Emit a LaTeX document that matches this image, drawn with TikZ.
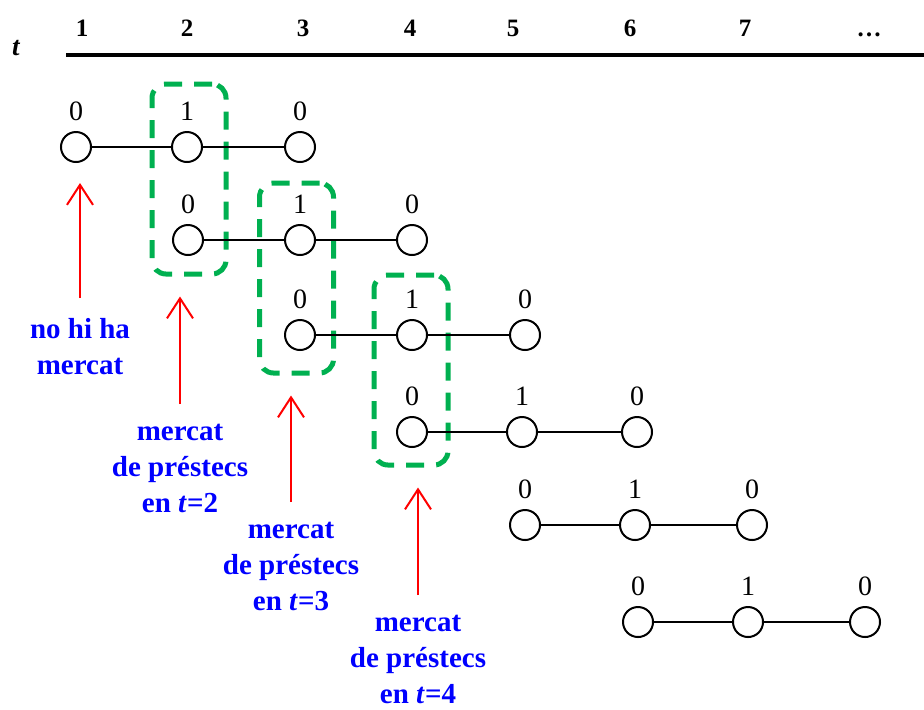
\documentclass[tikz,border=0pt]{standalone}
\usepackage{fontspec}
\setmainfont{Liberation Serif}
\usepackage{tikz}
\usetikzlibrary{arrows.meta, calc}
\definecolor{boxgreen}{RGB}{0,176,80}

\begin{document}
\begin{tikzpicture}[x=0.5pt, y=-0.5pt]
    \tikzstyle{period} = [circle, draw=black, line width=1pt, minimum size=15pt, inner sep=0pt]
    \tikzstyle{digit} = [font=\fontsize{14}{16}\selectfont, inner sep=0pt]
    \tikzstyle{head} = [font=\fontsize{12.5}{14}\selectfont\bfseries, anchor=base, inner sep=0pt]
    \tikzstyle{link} = [line width=0.9pt]
    \tikzstyle{mktbox} = [rectangle, rounded corners=7pt, draw=boxgreen, line width=2.5pt, dash pattern=on 9pt off 6pt, minimum width=37pt, minimum height=95pt, inner sep=0pt]
    \tikzstyle{note} = [text=blue, font=\fontsize{14.5}{18}\selectfont\bfseries, align=center, inner sep=0pt, anchor=north]
    \tikzstyle{arrow} = [red, line width=1pt, -{Straight Barb[length=10pt, width=13pt]}, shorten <=10pt, shorten >=10pt]
    \useasboundingbox (0,0) rectangle (924,709);
    % Header
    \node (tlabel) [head, font=\fontsize{13.5}{15}\selectfont\bfseries\itshape] at (16,55) {t};
    \node (h1) [head] at (82,36) {1};
    \node (h2) [head] at (187,36) {2};
    \node (h3) [head] at (303,36) {3};
    \node (h4) [head] at (410,36) {4};
    \node (h5) [head] at (513,36) {5};
    \node (h6) [head] at (630,36) {6};
    \node (h7) [head] at (745,36) {7};
    \node (h8) [head] at (869,36) {\dots};
    \coordinate (axisl) at (66,55);
    \coordinate (axisr) at (924,55);
    \draw [line width=1.8pt] (axisl) -- (axisr);
    % Nodes
    \node (r1a) [period, label={[digit, label distance=5pt]above:0}] at (76,147) {};
    \node (r1b) [period, label={[digit, label distance=5pt]above:1}] at (187,147) {};
    \node (r1c) [period, label={[digit, label distance=5pt]above:0}] at (300,147) {};
    \node (r2a) [period, label={[digit, label distance=5pt]above:0}] at (188,240) {};
    \node (r2b) [period, label={[digit, label distance=5pt]above:1}] at (300,240) {};
    \node (r2c) [period, label={[digit, label distance=5pt]above:0}] at (412,240) {};
    \node (r3a) [period, label={[digit, label distance=5pt]above:0}] at (300,335) {};
    \node (r3b) [period, label={[digit, label distance=5pt]above:1}] at (412,335) {};
    \node (r3c) [period, label={[digit, label distance=5pt]above:0}] at (525,335) {};
    \node (r4a) [period, label={[digit, label distance=5pt]above:0}] at (412,432) {};
    \node (r4b) [period, label={[digit, label distance=5pt]above:1}] at (522,432) {};
    \node (r4c) [period, label={[digit, label distance=5pt]above:0}] at (637,432) {};
    \node (r5a) [period, label={[digit, label distance=5pt]above:0}] at (525,525) {};
    \node (r5b) [period, label={[digit, label distance=5pt]above:1}] at (635,525) {};
    \node (r5c) [period, label={[digit, label distance=5pt]above:0}] at (752,525) {};
    \node (r6a) [period, label={[digit, label distance=5pt]above:0}] at (638,622) {};
    \node (r6b) [period, label={[digit, label distance=5pt]above:1}] at (748,622) {};
    \node (r6c) [period, label={[digit, label distance=5pt]above:0}] at (865,622) {};
    \node (mkt2) [mktbox] at (189,179) {};
    \node (mkt3) [mktbox] at (296.5,278) {};
    \node (mkt4) [mktbox] at (411,370) {};
    \node (nomkt) [note] at (80,318) {no hi ha\\ mercat};
    \node (note2) [note] at (180,424) {mercat\\ de préstecs\\ en \textit{t}=2};
    \node (note3) [note] at (291,522) {mercat\\ de préstecs\\ en \textit{t}=3};
    \node (note4) [note] at (418,615) {mercat\\ de préstecs\\ en \textit{t}=4};
    % Lines
    \draw [link] (r1a) -- (r1b) -- (r1c);
    \draw [link] (r2a) -- (r2b) -- (r2c);
    \draw [link] (r3a) -- (r3b) -- (r3c);
    \draw [link] (r4a) -- (r4b) -- (r4c);
    \draw [link] (r5a) -- (r5b) -- (r5c);
    \draw [link, line width=1.4pt] (r6a) -- (r6b) -- (r6c);
    % Arrows
    \draw [arrow] (nomkt.north) -- (nomkt.north |- r1a.south);
    \draw [arrow] (note2.north) -- (note2.north |- mkt2.south);
    \draw [arrow] (note3.north) -- (note3.north |- mkt3.south);
    \draw [arrow] (note4.north) -- (note4.north |- mkt4.south);
\end{tikzpicture}
\end{document}
